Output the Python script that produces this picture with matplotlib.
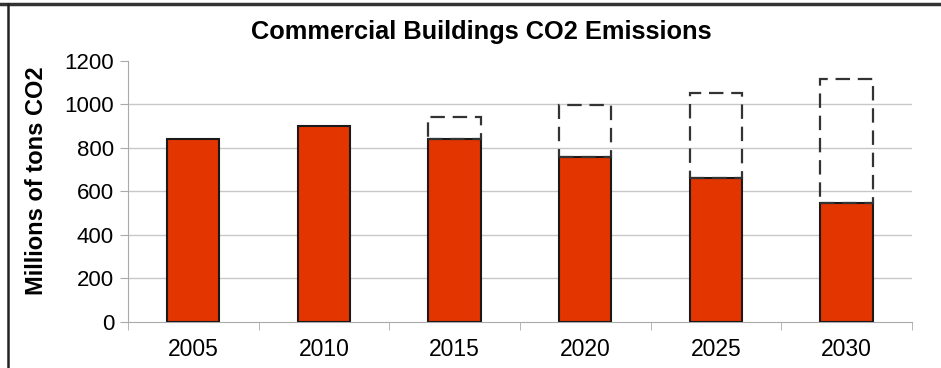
import matplotlib.pyplot as plt
from matplotlib.lines import Line2D

years = ['2005', '2010', '2015', '2020', '2025', '2030']
emissions = [840, 900, 840, 755, 660, 545]          # actual / reduced path
projected = [None, None, 940, 995, 1050, 1115]      # business-as-usual outline
yticks = [0, 200, 400, 600, 800, 1000, 1200]

plt.rcParams['font.family'] = ['Liberation Sans', 'DejaVu Sans']

fig = plt.figure(figsize=(9.41, 3.68), dpi=100)
ax = fig.add_axes([0.136, 0.126, 0.833, 0.709])

x = range(len(years))
ax.bar(x, emissions, width=0.4, color='#e33500', edgecolor='#1a1a1a', linewidth=1.5, zorder=3)

# dashed outline from the bar top up to the projected value
for i, p in enumerate(projected):
    if p is None:
        continue
    ax.bar(i, p - emissions[i], bottom=emissions[i], width=0.4, fill=False,
           edgecolor='#333333', linewidth=1.6, linestyle=(0, (6.5, 3.5)), zorder=4)

for t in yticks[1:-1]:
    ax.axhline(t, color='#c8c8c8', linewidth=1, zorder=1)

ax.set_xlim(-0.5, len(years) - 0.5)
ax.set_ylim(0, 1200)
ax.set_yticks(yticks)
ax.set_xticks(list(x))
ax.set_xticklabels(years)
ax.set_xticks([i - 0.5 for i in range(len(years) + 1)], minor=True)
ax.tick_params(axis='x', which='major', length=0, labelsize=16.5, pad=12)
ax.tick_params(axis='x', which='minor', length=6, color='#aaaaaa', direction='out')
ax.tick_params(axis='y', length=6, color='#aaaaaa', labelsize=16, pad=4)

for side in ['top', 'right']:
    ax.spines[side].set_visible(False)
for side in ['left', 'bottom']:
    ax.spines[side].set_color('#aaaaaa')

ax.set_ylabel('Millions of tons CO2', fontsize=17, fontweight='bold')
ax.yaxis.set_label_coords(-0.102, 0.54)
fig.text(0.512, 0.912, 'Commercial Buildings CO2 Emissions', ha='center', va='center',
         fontsize=18.3, fontweight='bold')

# frame lines at the top and left edges
fig.add_artist(Line2D([0, 1], [0.99, 0.99], color='#333333', linewidth=2.5))
fig.add_artist(Line2D([0.0085, 0.0085], [0, 0.99], color='#222222', linewidth=1.8))

fig.savefig('out.png', dpi=100)
